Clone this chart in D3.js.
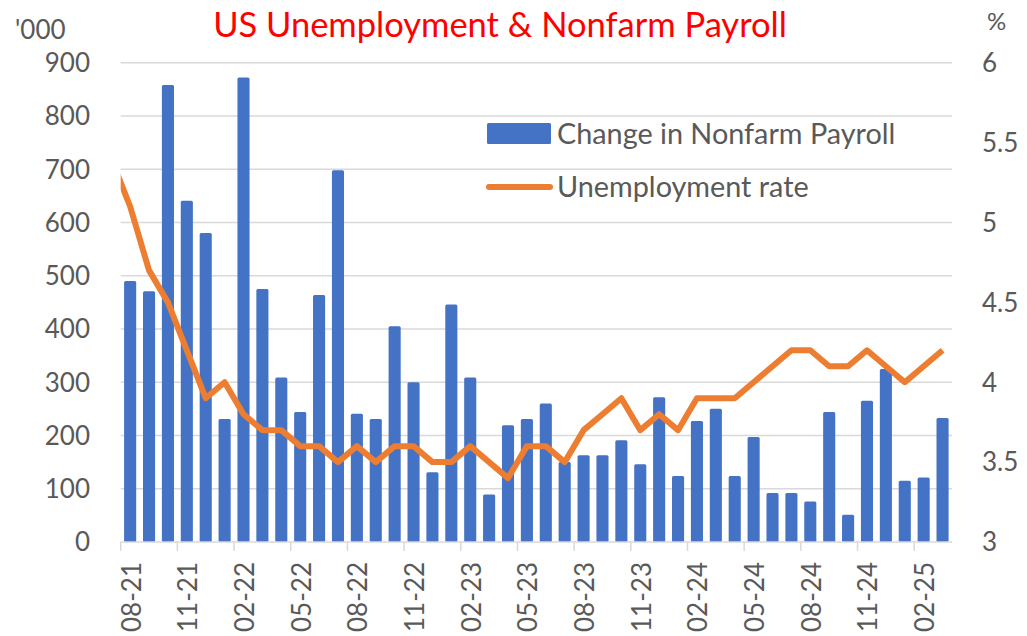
<!DOCTYPE html>
<html>
<head>
<meta charset="utf-8">
<script src="https://cdn.jsdelivr.net/npm/d3@7"></script>
<style>
  body { margin: 0; background: #fff; }
  text { font-family: Lato, "Open Sans", sans-serif; fill: #595959; }
</style>
</head>
<body>
<svg id="chart" width="1027" height="636"></svg>
<script>
// month labels (mm-yy), one per bar
const months = [
  "08-21","09-21","10-21","11-21","12-21","01-22","02-22","03-22","04-22","05-22","06-22","07-22",
  "08-22","09-22","10-22","11-22","12-22","01-23","02-23","03-23","04-23","05-23","06-23","07-23",
  "08-23","09-23","10-23","11-23","12-23","01-24","02-24","03-24","04-24","05-24","06-24","07-24",
  "08-24","09-24","10-24","11-24","12-24","01-25","02-25","03-25"
];

// change in nonfarm payroll, thousands
const payroll = [
  490, 471, 858, 641, 580, 231, 872, 475, 309, 244, 464, 698,
  241, 231, 405, 300, 131, 446, 309, 89, 219, 231, 260, 150,
  163, 163, 191, 146, 272, 124, 227, 250, 124, 197, 92, 92,
  76, 244, 51, 265, 325, 115, 121, 233
];

// unemployment rate, % (starts one month earlier, clipped at the left edge)
const rateMonths = ["07-21"].concat(months);
const rate = [
  5.4,
  5.1, 4.7, 4.5, 4.2, 3.9, 4.0, 3.8, 3.7, 3.7, 3.6, 3.6, 3.5,
  3.6, 3.5, 3.6, 3.6, 3.5, 3.5, 3.6, 3.5, 3.4, 3.6, 3.6, 3.5,
  3.7, 3.8, 3.9, 3.7, 3.8, 3.7, 3.9, 3.9, 3.9, 4.0, 4.1, 4.2,
  4.2, 4.1, 4.1, 4.2, 4.1, 4.0, 4.1, 4.2
];

const leftTicks = [0, 100, 200, 300, 400, 500, 600, 700, 800, 900];
const rightTicks = [3, 3.5, 4, 4.5, 5, 5.5, 6];

const svg = d3.select("#chart");
const width = 1027, height = 636;
const margin = { top: 62.7, right: 75, bottom: 94, left: 120.7 };
const plotRight = width - margin.right;
const plotBottom = height - margin.bottom;

const x = d3.scaleBand()
  .domain(months)
  .range([margin.left, plotRight])
  .paddingInner(0.36)
  .paddingOuter(0.18);
const step = x.step();

// line scale shares the same slots, shifted one month left
const xr = d3.scaleBand()
  .domain(rateMonths)
  .range([margin.left - step, plotRight])
  .paddingInner(0.36)
  .paddingOuter(0.18);

const yL = d3.scaleLinear().domain([0, 900]).range([plotBottom, margin.top]);
const yR = d3.scaleLinear().domain([3, 6]).range([plotBottom, margin.top]);

// gridlines
svg.append("g").selectAll("line")
  .data(leftTicks.filter(d => d > 0))
  .join("line")
  .attr("x1", margin.left).attr("x2", plotRight)
  .attr("y1", d => yL(d)).attr("y2", d => yL(d))
  .attr("stroke", "#d9d9d9").attr("stroke-width", 1.5);

// bars
svg.append("g").selectAll("rect")
  .data(payroll)
  .join("rect")
  .attr("x", (d, i) => x(months[i]))
  .attr("width", x.bandwidth())
  .attr("y", d => yL(d))
  .attr("height", d => yL(0) - yL(d))
  .attr("rx", 1.5)
  .attr("fill", "#4472c4");

// x axis line and ticks at slot boundaries
svg.append("line")
  .attr("x1", margin.left).attr("x2", plotRight)
  .attr("y1", plotBottom).attr("y2", plotBottom)
  .attr("stroke", "#d9d9d9").attr("stroke-width", 1.5);

const labelled = months.filter((m, i) => i % 3 === 0);
const boundary = m => x(m) - (step - x.bandwidth()) / 2;

svg.append("g").selectAll("line")
  .data(labelled)
  .join("line")
  .attr("x1", boundary).attr("x2", boundary)
  .attr("y1", plotBottom).attr("y2", plotBottom + 9)
  .attr("stroke", "#d9d9d9").attr("stroke-width", 1.5);

svg.append("g").selectAll("text")
  .data(labelled)
  .join("text")
  .attr("transform", m => `translate(${x(m) + x.bandwidth() / 2 + 1},${plotBottom + 20}) rotate(-90)`)
  .attr("dy", "0.36em")
  .attr("text-anchor", "end")
  .style("font-size", "26px")
  .text(m => m);

// line, clipped to the plot area
svg.append("clipPath").attr("id", "plot-clip")
  .append("rect")
  .attr("x", margin.left).attr("y", 0)
  .attr("width", plotRight - margin.left).attr("height", height);

const line = d3.line()
  .x((d, i) => xr(rateMonths[i]) + xr.bandwidth() / 2)
  .y(d => yR(d));

svg.append("path")
  .datum(rate)
  .attr("clip-path", "url(#plot-clip)")
  .attr("d", line)
  .attr("fill", "none")
  .attr("stroke", "#ed7d31")
  .attr("stroke-width", 6)
  .attr("stroke-linejoin", "round");

// left axis labels
svg.append("g").selectAll("text")
  .data(leftTicks)
  .join("text")
  .attr("x", 90).attr("y", d => yL(d))
  .attr("dy", "0.36em")
  .attr("text-anchor", "end")
  .style("font-size", "26px")
  .text(d => d);

// right axis labels
svg.append("g").selectAll("text")
  .data(rightTicks)
  .join("text")
  .attr("x", 982).attr("y", d => yR(d))
  .attr("dy", "0.36em")
  .style("font-size", "26px")
  .text(d => d);

// unit labels
svg.append("text").attr("x", 15).attr("y", 39).style("font-size", "26px").text("'000");
svg.append("text").attr("x", 987).attr("y", 30).style("font-size", "24px").text("%");

// title
svg.append("text")
  .attr("x", 500).attr("y", 37)
  .attr("text-anchor", "middle")
  .style("font-size", "34.5px")
  .style("fill", "#ff0000")
  .text("US Unemployment & Nonfarm Payroll");

// legend
const legend = svg.append("g");
legend.append("rect")
  .attr("x", 487).attr("y", 123).attr("width", 64).attr("height", 21)
  .attr("rx", 1.5).attr("fill", "#4472c4");
legend.append("text")
  .attr("x", 557).attr("y", 133.5).attr("dy", "0.36em")
  .style("font-size", "28.8px")
  .text("Change in Nonfarm Payroll");
legend.append("line")
  .attr("x1", 489).attr("x2", 550).attr("y1", 187).attr("y2", 187)
  .attr("stroke", "#ed7d31").attr("stroke-width", 6).attr("stroke-linecap", "round");
legend.append("text")
  .attr("x", 557).attr("y", 187).attr("dy", "0.36em")
  .style("font-size", "28.8px")
  .text("Unemployment rate");
</script>
</body>
</html>
